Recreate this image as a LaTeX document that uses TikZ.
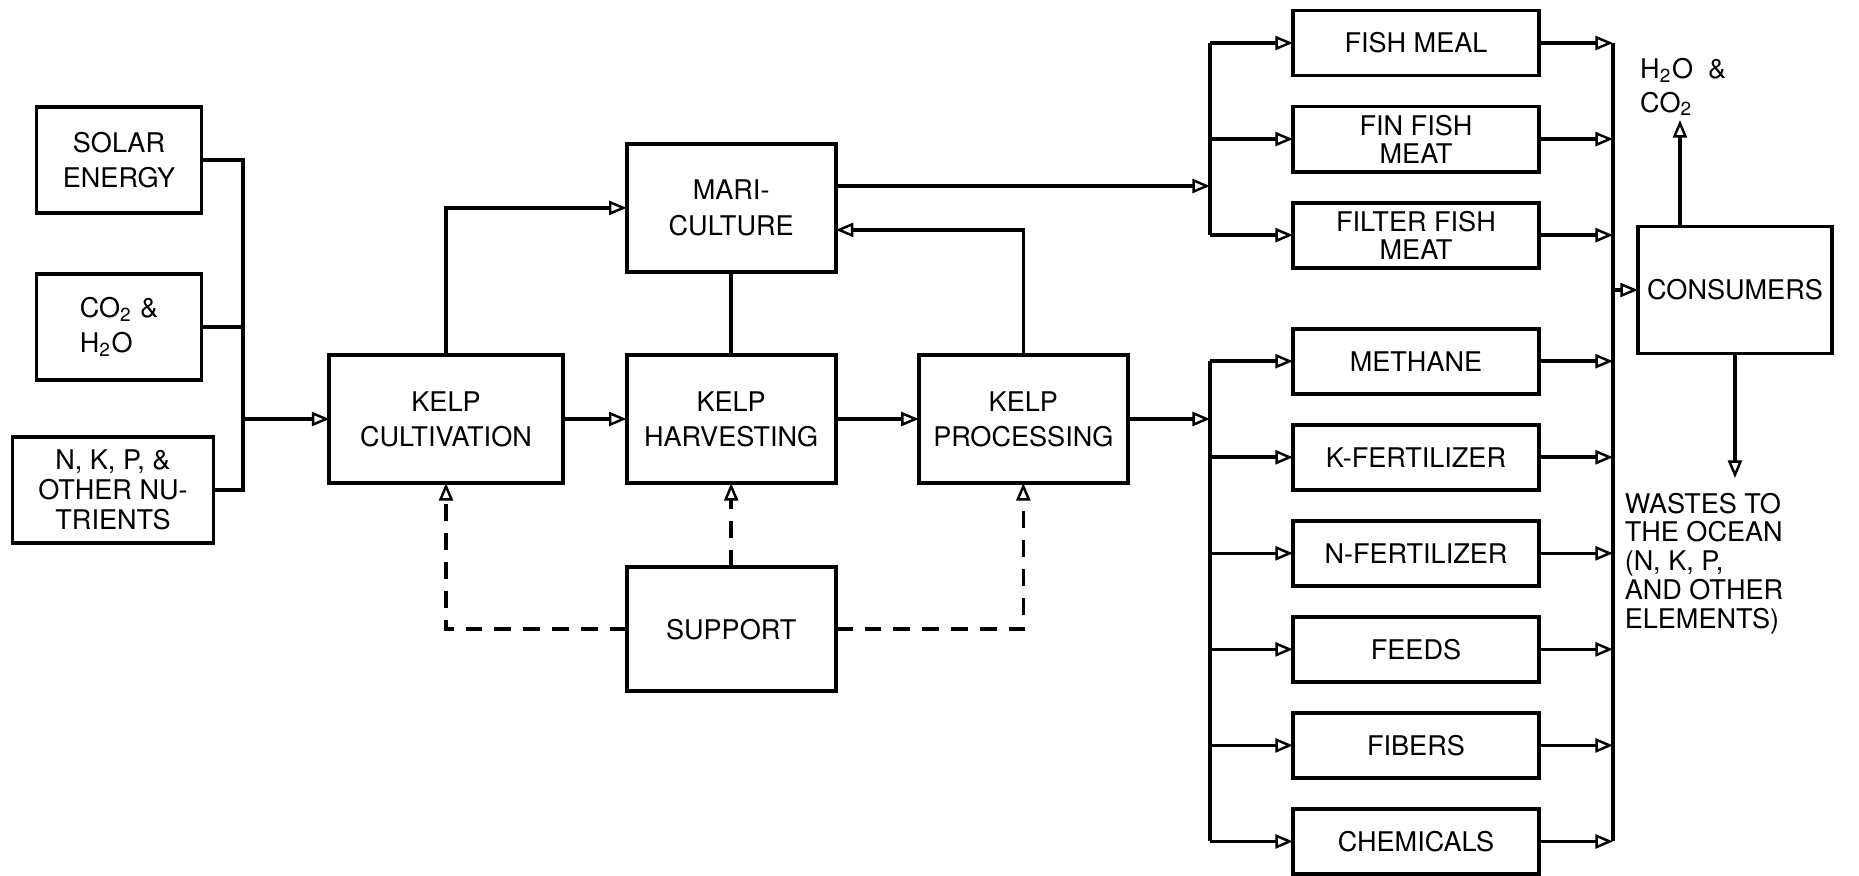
\documentclass[tikz,border=0pt]{standalone}
\usepackage{fontspec}
\setmainfont{TeX Gyre Heros}
\usepackage{tikz}
\usetikzlibrary{positioning, arrows.meta}

\begin{document}
\begin{tikzpicture}[
      x=0.01cm, y=-0.01cm,
      node distance = 0.31cm and 0.64cm,
      font=\fontsize{7.7}{10}\selectfont,
      block/.style = {draw, line width=1.1pt, outer sep=0pt, minimum width=2.09cm, minimum height=1.28cm, align=center, inner sep=1pt},
      src/.style   = {block, minimum width=1.65cm, minimum height=1.06cm},
      prod/.style  = {block, minimum width=2.46cm, minimum height=0.65cm, font=\fontsize{7.7}{8}\selectfont},
      note/.style  = {align=left, inner sep=1pt, font=\fontsize{7.7}{8.2}\selectfont},
      wire/.style  = {line width=1pt},
      flow/.style  = {wire, -{Triangle[open, length=5pt, width=4pt, line width=0.7pt]}},
      aid/.style   = {flow, dash pattern=on 4.8pt off 3.4pt},
  ]
  \useasboundingbox (0,0) rectangle (1859,875);

  % --- Inputs ---
  \node[src] (solar) at (119,160) {SOLAR\\ENERGY};
  \node[src, below=0.61cm of solar, align=left] (water) {CO\textsubscript{2} \&\\H\textsubscript{2}O};
  \node[src, below=0.57cm of water, xshift=-0.06cm, minimum width=2.01cm,
        font=\fontsize{7.7}{8.5}\selectfont] (nutr) {N, K, P, \&\\OTHER NU-\\TRIENTS};

  % --- Kelp chain ---
  \node[block, minimum width=2.33cm] (cult) at (446,419) {KELP\\CULTIVATION};
  \node[block, right=0.64cm of cult] (harv) {KELP\\HARVESTING};
  \node[block, right=0.83cm of harv] (proc) {KELP\\PROCESSING};
  \node[block, above=0.83cm of harv] (mari) {MARI-\\CULTURE};
  \node[block, below=0.84cm of harv, minimum height=1.24cm] (supp) {SUPPORT};

  % --- Products ---
  \node[prod] (fmeal) at (1416,43) {FISH MEAL};
  \node[prod, below=of fmeal] (finf)   {FIN FISH\\MEAT};
  \node[prod, below=of finf]  (filt)   {FILTER FISH\\MEAT};
  \node[prod, below=0.61cm of filt] (meth) {METHANE};
  \node[prod, below=of meth]  (kfert)  {K-FERTILIZER};
  \node[prod, below=of kfert] (nfert)  {N-FERTILIZER};
  \node[prod, below=of nfert] (feeds)  {FEEDS};
  \node[prod, below=of feeds] (fibers) {FIBERS};
  \node[prod, below=of fibers] (chem)  {CHEMICALS};

  % --- Consumers and what leaves them ---
  \node[block, minimum width=1.94cm, minimum height=1.27cm] (cons) at (1735,290) {CONSUMERS};
  \node[note, anchor=south west, font=\fontsize{7.7}{9.5}\selectfont] (gas) at (1636,120)
        {H\textsubscript{2}O\ \ \&\\CO\textsubscript{2}};
  \node[note, anchor=north west, inner sep=4pt] (waste) at (1610,478)
        {WASTES TO\\THE OCEAN\\(N, K, P,\\AND OTHER\\ELEMENTS)};

  % --- Bus points ---
  \coordinate (lbus) at (243,419);
  \coordinate (ubus) at (1210,186);
  \coordinate (dbus) at (1210,419);
  \coordinate (rbus) at (1613,290);

  % --- Inputs to cultivation ---
  \draw[wire] (solar.east) -| (lbus);
  \draw[wire] (nutr.east) -| (lbus);
  \draw[wire] (water.east) -- (water.east -| lbus);
  \draw[flow] (lbus) -- (cult);

  % --- Kelp chain ---
  \draw[flow] (cult) -- (harv);
  \draw[flow] (harv) -- (proc);
  \draw[flow] (cult.north) |- (mari.west);
  \draw[wire] (mari) -- (harv);
  \draw[flow] (proc.north) |- ([yshift=-0.22cm]mari.east);

  % --- Support (dashed) ---
  \draw[aid] (supp.west) -| (cult.south);
  \draw[aid] (supp.north) -- (harv.south);
  \draw[aid] (supp.east) -| (proc.south);

  % --- Fish products ---
  \draw[flow] (mari.east |- ubus) -- (ubus);
  \draw[wire] (fmeal.west -| ubus) -- (filt.west -| ubus);
  \foreach \p in {fmeal, finf, filt}
    \draw[flow] (\p.west -| ubus) -- (\p.west);

  % --- Kelp products ---
  \draw[flow] (proc.east) -- (proc.east -| dbus);
  \draw[wire] (meth.west -| dbus) -- (chem.west -| dbus);
  \foreach \p in {meth, kfert, nfert, feeds, fibers, chem}
    \draw[flow] (\p.west -| dbus) -- (\p.west);

  % --- To consumers ---
  \draw[wire] (fmeal.east -| rbus) -- (chem.east -| rbus);
  \foreach \p in {fmeal, finf, filt, meth, kfert, nfert, feeds, fibers, chem}
    \draw[flow] (\p.east) -- (\p.east -| rbus);
  \draw[flow] (rbus) -- (cons);
  \draw[flow] ([xshift=-0.55cm]cons.north) -- ([xshift=-0.55cm]cons.north |- gas.south);
  \draw[flow] (cons.south) -- (cons.south |- waste.north);

\end{tikzpicture}
\end{document}
